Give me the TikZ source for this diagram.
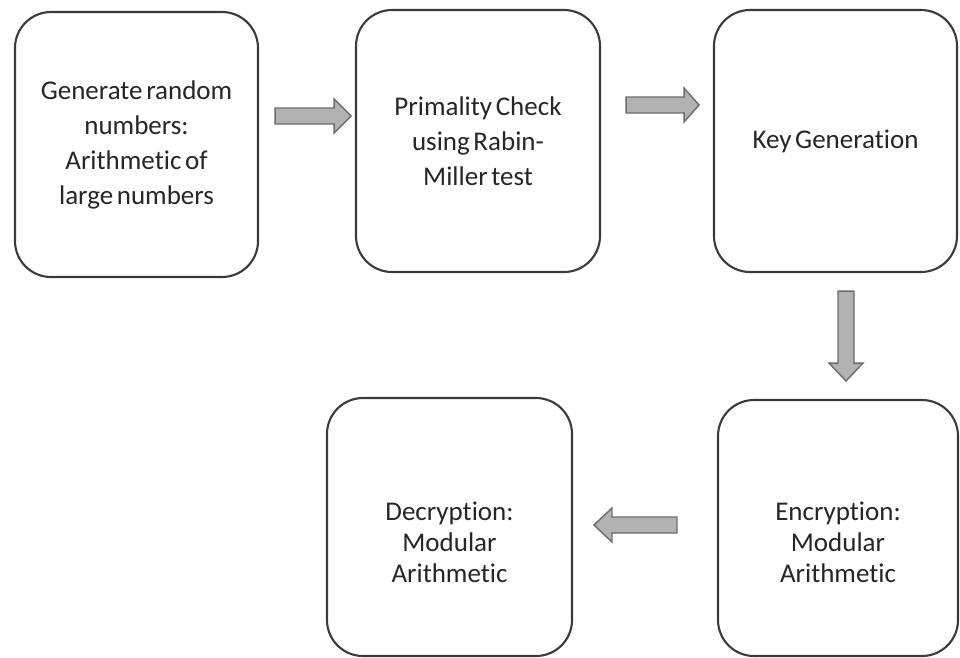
\documentclass[tikz,border=0pt]{standalone}
\usepackage{fontspec}
\setmainfont{Carlito}[WordSpace=0.6, Ligatures=NoCommon]
\usetikzlibrary{calc}
\definecolor{boxline}{HTML}{3A3A3A}
\definecolor{inktext}{HTML}{262626}
\definecolor{arrowfill}{HTML}{B2B2B2}
\definecolor{arrowline}{HTML}{6C6C6C}
\tikzset{
  stage/.style={draw=boxline, line width=2.1pt, rounded corners=36pt,
    inner sep=0pt, align=center, text=inktext,
    font=\fontsize{27}{35}\selectfont},
  caption/.style={align=center, text=inktext, inner sep=0pt,
    font=\fontsize{27}{31}\selectfont},
  blockarrow/.style={fill=arrowfill, draw=arrowline, line width=1.4pt, line join=miter},
  % right-pointing block arrow of length #1 with a head of length #2
  pics/fatarrow/.style 2 args={code={
    \path[blockarrow] (0,-8) -- (#1-#2,-8) -- (#1-#2,-17) -- (#1,0)
      -- (#1-#2,17) -- (#1-#2,8) -- (0,8) -- cycle;}}
}
\begin{document}
\begin{tikzpicture}[x=1pt,y=-1pt]
\useasboundingbox[fill=white] (0,0) rectangle (960,657);

% top row
\node[stage, minimum width=243pt, minimum height=265pt] (gen) at (136.5,144.5)
  {Generate random\\numbers:\\Arithmetic of\\large numbers};
\node[stage, minimum width=244pt, minimum height=262pt] (prim) at (478,141)
  {Primality Check\\using Rabin-\\Miller test};
\node[stage, minimum width=243pt, minimum height=262pt] (key) at (835.5,141)
  {Key Generation};

% bottom row
\node[stage, minimum width=240pt, minimum height=256pt] (enc) at (838,528) {};
\node[caption] (enctxt) at ($(enc.center)+(0,14)$) {Encryption:\\Modular\\Arithmetic};
\node[stage, minimum width=245pt, minimum height=258pt] (dec) at (449.5,527) {};
\node[caption] (dectxt) at ($(dec.center)+(0,15)$) {Decryption:\\Modular\\Arithmetic};

% flow arrows
\coordinate (a1) at ($(gen.east)+(16,-28.5)$);
\coordinate (a2) at ($(prim.east)+(25,-36)$);
\coordinate (a3) at ($(key.south)+(10.5,18)$);
\coordinate (a4) at ($(enc.west)+(-40,-3)$);
\pic at (a1) {fatarrow={76}{17}};
\pic at (a2) {fatarrow={73}{15}};
\pic[rotate=-90] at (a3) {fatarrow={90}{18}};
\pic[rotate=180] at (a4) {fatarrow={83}{18}};
\end{tikzpicture}
\end{document}
